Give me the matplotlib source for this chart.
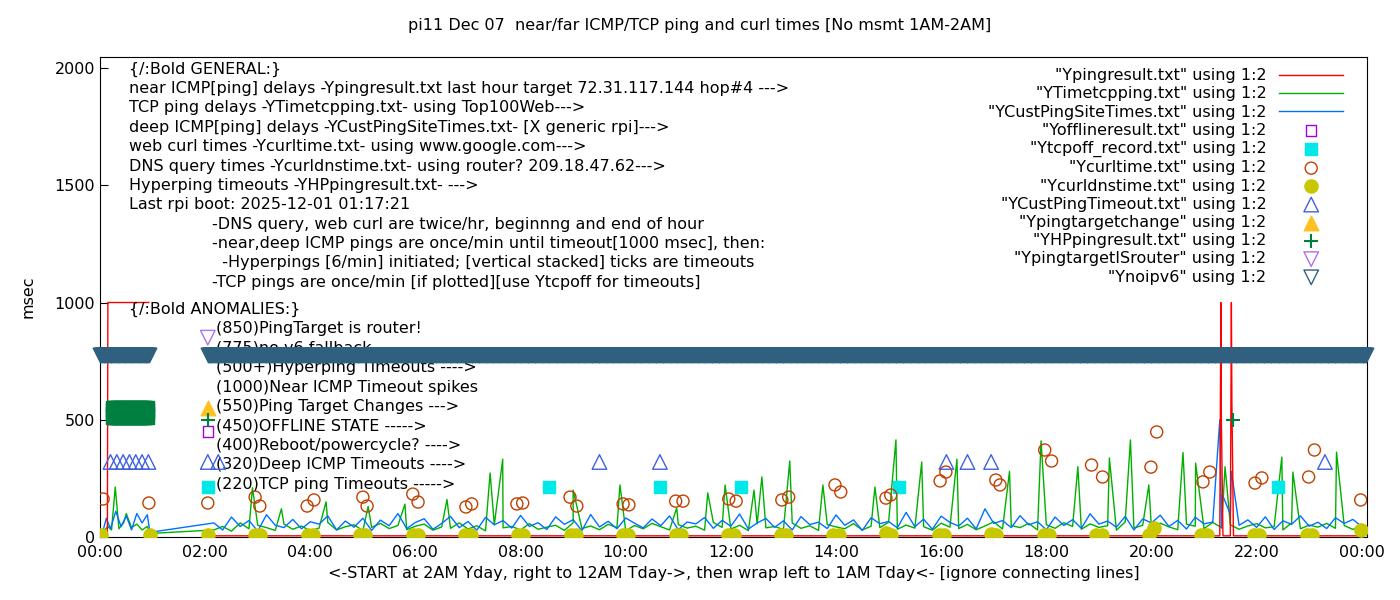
import matplotlib
matplotlib.use("Agg")
import matplotlib.pyplot as plt
import numpy as np

TITLE = "pi11 Dec 07  near/far ICMP/TCP ping and curl times [No msmt 1AM-2AM]"
XLABEL = "<-START at 2AM Yday, right to 12AM Tday->, then wrap left to 1AM Tday<- [ignore connecting lines]"

# ---- TCP ping (green): low baseline every 10 min from 02:10 plus spikes
green_first_t = [0.05, 0.15, 0.22, 0.29, 0.36, 0.45, 0.5, 0.6, 0.7, 0.8, 0.9, 0.95]
green_first_v = [20, 45, 30, 213, 35, 60, 100, 40, 55, 30, 45, 15]
green_base = [30, 45, 25, 60, 35, 50, 40, 28, 55, 33, 47, 26,
              38, 62, 30, 44, 52, 27, 41, 58, 36, 49, 31, 46,
              55, 29, 43, 37, 60, 34, 48, 26, 52, 39, 45, 30,
              57, 33, 42, 50, 28, 61, 36, 47, 31, 54, 40, 27,
              49, 35, 58, 44, 30, 53, 38, 46, 29, 62, 41, 34,
              50, 27, 56, 39, 45, 32, 60, 37, 48, 28, 53, 43,
              35, 57, 30, 46, 40, 63, 33, 51, 38, 44, 29, 59,
              42, 36, 54, 31, 47, 65, 34, 49, 40, 58, 30, 52,
              37, 61, 45, 33, 56, 41, 48, 29, 64, 38, 50, 35,
              59, 43, 31, 55, 46, 36, 62, 40, 52, 33, 47, 57,
              39, 44, 30, 60, 35, 51, 42, 58, 37, 49, 32, 55]
green_spike_t = [2.9, 3.45, 4.3, 5.1, 5.8, 6.6, 7.42, 7.66, 9.0, 9.89, 10.97,
                 11.56, 11.89, 12.44, 12.59, 13.12, 13.75, 14.74, 15.14, 15.63,
                 16.3, 17.3, 17.9, 18.6, 19.2, 19.6, 19.95, 20.6, 20.84, 21.4,
                 22.48, 22.69, 23.52]
green_spike_v = [210, 120, 150, 130, 140, 160, 273, 332, 200, 222, 124,
                 188, 222, 200, 256, 324, 222, 213, 414, 320,
                 332, 280, 410, 300, 337, 414, 222, 360, 315, 300,
                 341, 277, 362]

# ---- deep ICMP (blue): baseline every 10 min from 02:10 plus spikes
blue_first_t = [0.05, 0.12, 0.2, 0.3, 0.4, 0.5, 0.6, 0.7, 0.8, 0.9, 0.95]
blue_first_v = [20, 80, 35, 110, 45, 90, 30, 100, 60, 95, 20]
blue_base = [60, 30, 85, 45, 70, 25, 95, 50, 40, 75, 35, 65,
             55, 90, 30, 68, 42, 80, 28, 72, 48, 100, 36, 62,
             78, 33, 58, 88, 40, 66, 29, 84, 52, 70, 38, 92,
             45, 61, 32, 86, 54, 74, 27, 96, 43, 67, 35, 81,
             59, 39, 77, 48, 90, 31, 64, 56, 83, 37, 71, 46,
             98, 34, 60, 79, 41, 69, 30, 87, 53, 63, 36, 94,
             50, 73, 28, 82, 57, 66, 39, 105, 44, 76, 33, 89,
             62, 47, 80, 35, 120, 58, 70, 40, 91, 52, 65, 31,
             85, 49, 74, 37, 99, 55, 68, 42, 88, 30, 77, 60,
             93, 45, 71, 34, 84, 56, 64, 38, 97, 50, 73, 41,
             86, 32, 69, 54, 90, 46, 63, 36, 82, 58, 75, 44]
blue_spike_t = [21.3, 21.35, 21.52]
blue_spike_v = [500, 180, 280]

# ---- near ICMP (red); NaN breaks the line across the no-measurement gap
red_t = [0.0, 0.14, 0.15, 0.93, 0.95, 2.1, 6.0, 10.0, 14.0, 18.0, 21.3, 21.32,
         21.33, 21.36, 21.5, 21.52, 21.53, 21.56, 24.0]
red_v = [5, 5, 1000, 1000, np.nan, 5, 5, 5, 5, 5, 5, 1000,
         500, 5, 5, 1000, 580, 5, 5]

# ---- scatter files
curl_t = [0.06, 0.93, 2.05, 2.95, 3.04, 3.94, 4.07, 5.0, 5.08, 5.95, 6.05, 6.96,
          7.07, 7.93, 8.04, 8.94, 9.07, 9.95, 10.06, 10.95, 11.09, 11.96, 12.1,
          12.97, 13.1, 13.98, 14.09, 14.95, 15.04, 15.98, 16.09, 17.04, 17.12,
          17.97, 18.1, 18.86, 19.07, 19.99, 20.1, 20.98, 21.11, 21.97, 22.1,
          22.99, 23.1, 23.98]
curl_v = [162, 145, 145, 170, 132, 132, 158, 170, 132, 183, 149, 128,
          141, 141, 145, 170, 132, 141, 137, 153, 153, 162, 153,
          158, 170, 222, 192, 166, 179, 239, 277, 243, 222,
          371, 324, 307, 256, 298, 448, 235, 277, 230, 252,
          256, 371, 158]
dns_t = [0.02, 0.95, 2.05, 2.95, 3.05, 3.95, 4.05, 4.95, 5.05, 5.95, 6.05, 6.95,
         7.05, 7.95, 8.05, 8.95, 9.05, 9.95, 10.05, 10.95, 11.05, 11.95, 12.05,
         12.95, 13.05, 13.95, 14.05, 14.95, 15.05, 15.95, 16.05, 16.95, 17.05,
         17.95, 18.05, 18.95, 19.05, 19.95, 20.05, 20.95, 21.05, 21.95, 22.05,
         22.95, 23.05, 23.98]
dns_v = [10, 8, 8, 10, 8, 10, 8, 10, 10, 10, 8, 10,
         10, 10, 10, 10, 10, 10, 10, 10, 10, 10, 10,
         10, 10, 10, 10, 18, 10, 10, 10, 12, 8,
         10, 10, 10, 10, 10, 40, 10, 10, 10, 10,
         10, 10, 30]
tcpoff_t = [2.05, 8.55, 10.65, 12.2, 15.2, 22.4]
tcpoff_v = [213, 213, 213, 213, 213, 213]
custto_t = [0.2, 0.32, 0.44, 0.56, 0.68, 0.8, 0.92, 2.05, 2.25, 9.5, 10.65,
            16.1, 16.5, 16.95, 23.3]
custto_v = [320] * 15
offline_t, offline_v = [2.05], [450]
tchange_t, tchange_v = [2.05], [550]
router_t, router_v = [2.05], [850]
hp_y = [505, 520, 535, 550, 560]
hp_other_t, hp_other_v = [2.05, 21.55], [500, 500]
noipv6_segments = [(0.0, 0.95), (2.05, 24.1)]
noipv6_v = 775

header_lines = [
    "{/:Bold GENERAL:}",
    "near ICMP[ping] delays -Ypingresult.txt last hour target 72.31.117.144 hop#4 --->",
    "TCP ping delays -YTimetcpping.txt- using Top100Web--->",
    "deep ICMP[ping] delays -YCustPingSiteTimes.txt- [X generic rpi]--->",
    "web curl times -Ycurltime.txt- using www.google.com--->",
    "DNS query times -Ycurldnstime.txt- using router? 209.18.47.62--->",
    "Hyperping timeouts -YHPpingresult.txt- --->",
    "Last rpi boot: 2025-12-01 01:17:21",
]
indent_lines = [
    "-DNS query, web curl are twice/hr, beginnng and end of hour",
    "-near,deep ICMP pings are once/min until timeout[1000 msec], then:",
    "  -Hyperpings [6/min] initiated; [vertical stacked] ticks are timeouts",
    "-TCP pings are once/min [if plotted][use Ytcpoff for timeouts]",
]
anomaly_lines = [
    "(850)PingTarget is router!",
    "(775)no v6 fallback",
    "(500+)Hyperping Timeouts ---->",
    "(1000)Near ICMP Timeout spikes",
    "(550)Ping Target Changes --->",
    "(450)OFFLINE STATE ----->",
    "(400)Reboot/powercycle? ---->",
    "(320)Deep ICMP Timeouts ---->",
    "(220)TCP ping Timeouts ----->",
]


def merge(first_t, first_v, base, spike_t, spike_v):
    t = list(first_t) + [2.0 + (i + 1) / 6.0 for i in range(len(base))]
    v = list(first_v) + list(base)
    pairs = sorted(zip(t + spike_t, v + spike_v))
    return [p[0] for p in pairs], [p[1] for p in pairs]


FS = 11.5
plt.rcParams["font.family"] = "DejaVu Sans"
fig = plt.figure(figsize=(14, 6), dpi=100)
ax = fig.add_axes([100 / 1400, 63 / 600, 1267 / 1400, 480 / 600])
ax.set_xlim(0, 24.1)
ax.set_ylim(0, 2047)

gt, gv = merge(green_first_t, green_first_v, green_base, green_spike_t, green_spike_v)
bt, bv = merge(blue_first_t, blue_first_v, blue_base, blue_spike_t, blue_spike_v)

ax.plot(red_t, red_v, color="#ff0000", lw=1, label='"Ypingresult.txt" using 1:2', zorder=3)
ax.plot(gt, gv, color="#00b000", lw=1, label='"YTimetcpping.txt" using 1:2', zorder=2)
ax.plot(bt, bv, color="#0070ff", lw=1, label='"YCustPingSiteTimes.txt" using 1:2', zorder=2)
ax.scatter(offline_t, offline_v, marker="s", s=55, facecolors="none", edgecolors="#a000e0",
           label='"Yofflineresult.txt" using 1:2', zorder=4)
ax.scatter(tcpoff_t, tcpoff_v, marker="s", s=80, color="#00e8e8",
           label='"Ytcpoff_record.txt" using 1:2', zorder=4)
ax.scatter(curl_t, curl_v, marker="o", s=75, facecolors="none", edgecolors="#c04000",
           label='"Ycurltime.txt" using 1:2', zorder=4)
ax.scatter(dns_t, dns_v, marker="o", s=90, color="#c8c800",
           label='"Ycurldnstime.txt" using 1:2', zorder=4)
ax.scatter(custto_t, custto_v, marker="^", s=110, facecolors="none", edgecolors="#4060e0",
           label='"YCustPingTimeout.txt" using 1:2', zorder=4)
ax.scatter(tchange_t, tchange_v, marker="^", s=110, color="#ffc020",
           label='"Ypingtargetchange" using 1:2', zorder=4)
hp_t = [0.2 + k * 0.025 for k in range(30)]
ax.scatter([t for t in hp_t for _ in hp_y], hp_y * len(hp_t), marker="s", s=45,
           color="#008040", zorder=4)
ax.scatter(hp_other_t, hp_other_v, marker="+", s=90, color="#008040",
           label='"YHPpingresult.txt" using 1:2', zorder=4)
ax.scatter(router_t, router_v, marker="v", s=110, facecolors="none", edgecolors="#b070f0",
           label='"YpingtargetISrouter" using 1:2', zorder=4)
nt = np.concatenate([np.arange(a, b, 1 / 60) for a, b in noipv6_segments])
ax.scatter(nt, [noipv6_v] * len(nt), marker="v", s=110, facecolors="#306080",
           edgecolors="#306080", zorder=5, clip_on=False)
ax.scatter([], [], marker="v", s=110, facecolors="none", edgecolors="#306080",
           label='"Ynoipv6" using 1:2')

leg = ax.legend(loc="upper right", bbox_to_anchor=(0.99, 1.0), frameon=False,
                markerfirst=False, fontsize=FS, handlelength=4.0,
                labelspacing=0.2, borderaxespad=0.3, handletextpad=0.8)


# text blocks (pixel placement converted to axes fraction)
def px(x, y):
    return ((x - 100) / 1267, (543 - y) / 480)


for i, s in enumerate(header_lines):
    ax.text(*px(129, 75 + i * 19.4), s, transform=ax.transAxes, fontsize=FS, va="center")
for i, s in enumerate(indent_lines):
    ax.text(*px(212, 230 + i * 19.4), s, transform=ax.transAxes, fontsize=FS, va="center")
ax.text(*px(129, 315), "{/:Bold ANOMALIES:}", transform=ax.transAxes, fontsize=FS, va="center")
for i, s in enumerate(anomaly_lines):
    ax.text(*px(216, 335 + i * 19.4), s, transform=ax.transAxes, fontsize=FS,
            va="center", zorder=1)

ax.set_xticks(range(0, 25, 2))
ax.set_xticklabels([f"{h % 24:02d}:00" for h in range(0, 25, 2)])
ax.set_yticks([0, 500, 1000, 1500, 2000])
ax.tick_params(direction="in", labelsize=FS, length=6)
ax.tick_params(axis="x", pad=6)
ax.set_ylabel("msec", fontsize=FS, labelpad=14)
ax.set_xlabel(XLABEL, fontsize=FS, labelpad=4)
fig.text(0.5, 0.958, TITLE, ha="center", va="center", fontsize=FS)

fig.savefig("out.png", dpi=100)
